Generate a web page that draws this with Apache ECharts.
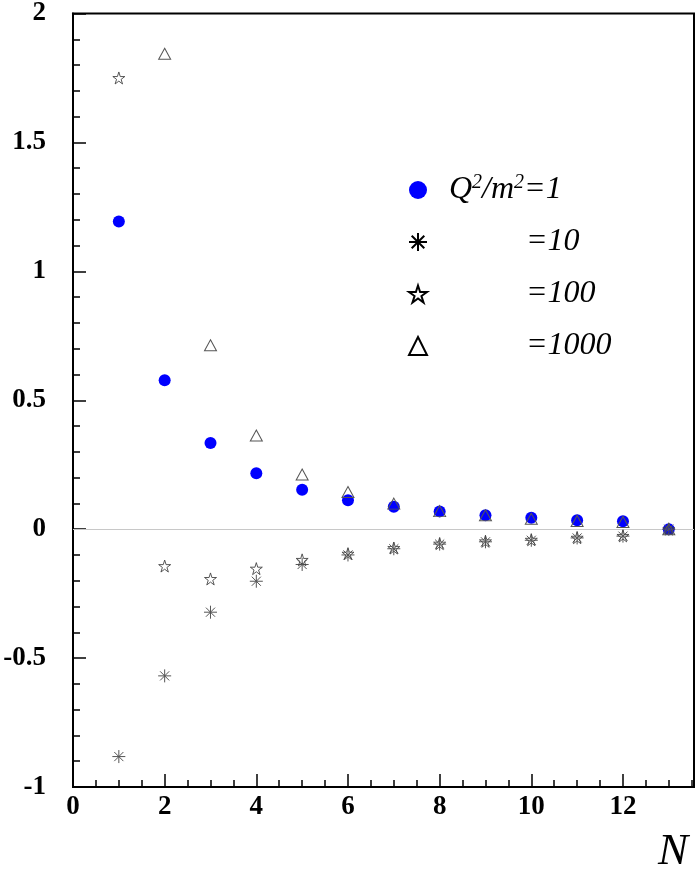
<!DOCTYPE html>
<html>
<head>
<meta charset="utf-8">
<script src="https://cdn.jsdelivr.net/npm/echarts@6/dist/echarts.min.js"></script>
<style>html,body{margin:0;padding:0;background:#fff}#c{width:697px;height:872px}</style>
</head>
<body>
<div id="c"></div>
<script>
// ---- data ----
var nValues = [1, 2, 3, 4, 5, 6, 7, 8, 9, 10, 11, 12, 13];
var q1 = [1.193, 0.578, 0.334, 0.217, 0.153, 0.112, 0.087, 0.069, 0.054, 0.044, 0.035, 0.031, 0.0];
var q10 = [-0.882, -0.569, -0.322, -0.202, -0.137, -0.100, -0.076, -0.058, -0.049, -0.043, -0.034, -0.027, 0.0];
var q100 = [1.75, -0.143, -0.193, -0.153, -0.119, -0.095, -0.073, -0.056, -0.047, -0.041, -0.033, -0.026, 0.0];
var n1000 = [2, 3, 4, 5, 6, 7, 8, 9, 10, 11, 12, 13];
var q1000 = [1.844, 0.713, 0.363, 0.212, 0.144, 0.099, 0.070, 0.054, 0.040, 0.032, 0.028, 0.0];
var xTicks = [0, 2, 4, 6, 8, 10, 12];
var yTicks = [-1, -0.5, 0, 0.5, 1, 1.5, 2];
var seriesNames = ['Q1', 'Q10', 'Q100', 'Q1000'];

function pairs(xs, ys) { return xs.map(function (x, i) { return [x, ys[i]]; }); }

var ASTER = 'path://M50,0L50,100M0,50L100,50M15,15L85,85M15,85L85,15';
var STAR = 'path://M50,0 L61.17,34.63 L97.55,34.55 L68.07,55.87 L79.39,90.45 L50,69 L20.61,90.45 L31.93,55.87 L2.45,34.55 L38.83,34.63 Z';

var serif = '"Liberation Serif", "DejaVu Serif", serif';
var chart = echarts.init(document.getElementById('c'), null, {renderer: 'canvas'});

var labelRich = {
  q: {fontFamily: serif, fontStyle: 'italic', fontSize: 32, lineHeight: 34, color: '#000'},
  sup: {fontFamily: serif, fontStyle: 'italic', fontSize: 20, lineHeight: 20, verticalAlign: 'top', color: '#000'},
  s1: {width: 17, fontSize: 32, lineHeight: 34},
  s2: {width: 94, fontSize: 32, lineHeight: 34}
};
var legendText = {
  Q1: '{s1| }{q|Q}{sup|2}{q|/m}{sup|2}{q|=1}',
  Q10: '{s2| }{q|=10}',
  Q100: '{s2| }{q|=100}',
  Q1000: '{s2| }{q|=1000}'
};

chart.setOption({
  animation: false,
  backgroundColor: '#fff',
  grid: {left: 73, right: 3, top: 10, bottom: 85, show: true, borderColor: '#000', borderWidth: 2, backgroundColor: 'transparent'},
  xAxis: {
    type: 'value', min: 0, max: 13.55, interval: 2,
    axisLine: {show: true, onZero: false, lineStyle: {color: '#000', width: 2}},
    axisTick: {show: true, inside: true, length: 13, lineStyle: {color: '#000', width: 1.5}},
    minorTick: {show: true, splitNumber: 4, length: 7, lineStyle: {color: '#000', width: 1.5}},
    splitLine: {show: false},
    axisLabel: {
      showMaxLabel: false, margin: 7, color: '#000', fontFamily: serif, fontWeight: 'bold', fontSize: 27,
      formatter: function (v) { return xTicks.indexOf(v) >= 0 ? String(v) : ''; }
    }
  },
  yAxis: {
    type: 'value', min: -1, max: 2, interval: 0.5,
    axisLine: {show: true, onZero: false, lineStyle: {color: '#000', width: 2}},
    axisTick: {show: true, inside: true, length: 13, lineStyle: {color: '#000', width: 1.5}},
    minorTick: {show: true, splitNumber: 5, length: 7, lineStyle: {color: '#000', width: 1.5}},
    splitLine: {show: false},
    axisLabel: {
      margin: 27, color: '#000', fontFamily: serif, fontWeight: 'bold', fontSize: 27,
      formatter: function (v) { return yTicks.indexOf(v) >= 0 ? String(v) : ''; }
    }
  },
  legend: {
    orient: 'vertical', left: 408, top: 173, padding: 0,
    itemWidth: 18, itemHeight: 18, itemGap: 18,
    selectedMode: false,
    formatter: function (name) { return legendText[name]; },
    textStyle: {rich: labelRich, fontSize: 32, lineHeight: 34},
    data: [
      {name: 'Q1', icon: 'circle', itemStyle: {color: '#0000ff', borderWidth: 0}},
      {name: 'Q10', icon: ASTER, itemStyle: {color: 'rgba(0,0,0,0)', borderColor: '#000', borderWidth: 2}},
      {name: 'Q100', icon: STAR, itemStyle: {color: 'rgba(0,0,0,0)', borderColor: '#000', borderWidth: 2}},
      {name: 'Q1000', icon: 'triangle', itemStyle: {color: 'rgba(0,0,0,0)', borderColor: '#000', borderWidth: 2}}
    ]
  },
  series: [
    {
      name: seriesNames[0], type: 'scatter', symbol: 'circle', symbolSize: 12, z: 2,
      itemStyle: {color: '#0000ff', opacity: 1},
      data: pairs(nValues, q1),
      markLine: {
        silent: true, symbol: 'none', z: 1, animation: false,
        label: {show: false},
        lineStyle: {color: '#c8c8c8', width: 1.2, type: 'solid'},
        data: [{yAxis: 0}]
      }
    },
    {
      name: seriesNames[1], type: 'scatter', symbol: ASTER, symbolSize: 13, z: 3,
      itemStyle: {color: 'rgba(0,0,0,0)', borderColor: '#555', borderWidth: 1, opacity: 1},
      data: pairs(nValues, q10)
    },
    {
      name: seriesNames[2], type: 'scatter', symbol: STAR, symbolSize: 12, z: 4,
      itemStyle: {color: 'rgba(0,0,0,0)', borderColor: '#444', borderWidth: 0.9, opacity: 1},
      data: pairs(nValues, q100)
    },
    {
      name: seriesNames[3], type: 'scatter', symbol: 'triangle', symbolSize: [12, 11], z: 5,
      itemStyle: {color: 'rgba(0,0,0,0)', borderColor: '#555', borderWidth: 1, opacity: 1},
      data: pairs(n1000, q1000)
    }
  ],
  graphic: [
    {
      type: 'text', left: 658, top: 830, silent: true,
      style: {text: 'N', fontFamily: serif, fontStyle: 'italic', fontSize: 45, fill: '#000'}
    }
  ]
});
</script>
</body>
</html>
